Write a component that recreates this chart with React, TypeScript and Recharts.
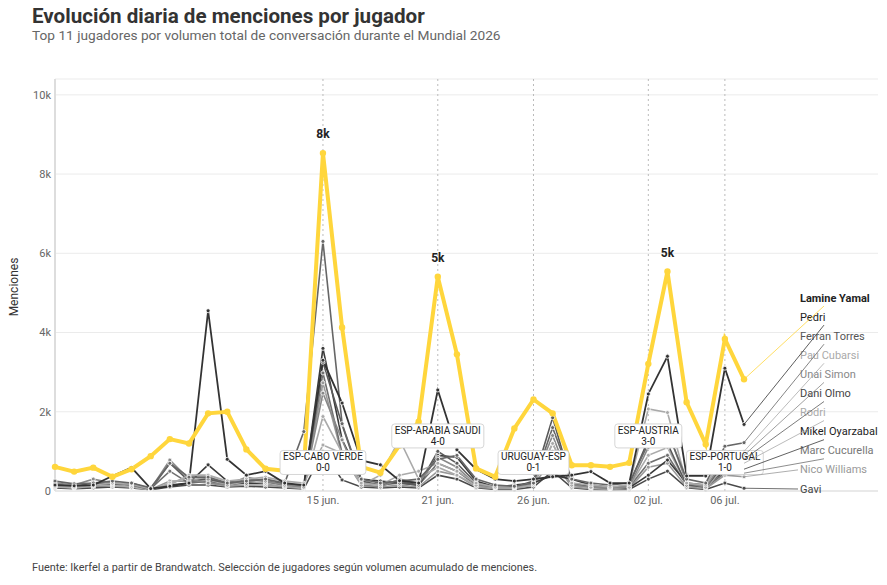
import React from 'react';
import { LineChart, Line, XAxis, YAxis, CartesianGrid, ReferenceLine, ReferenceDot, LabelList } from 'recharts';

const FONT = 'Roboto, "Noto Sans", Arial, sans-serif';

const dates = [
  '01 jun.', '02 jun.', '03 jun.', '04 jun.', '05 jun.', '06 jun.', '07 jun.', '08 jun.', '09 jun.', '10 jun.',
  '11 jun.', '12 jun.', '13 jun.', '14 jun.', '15 jun.', '16 jun.', '17 jun.', '18 jun.', '19 jun.', '20 jun.',
  '21 jun.', '22 jun.', '23 jun.', '24 jun.', '25 jun.', '26 jun.', '27 jun.', '28 jun.', '29 jun.', '30 jun.',
  '01 jul.', '02 jul.', '03 jul.', '04 jul.', '05 jul.', '06 jul.', '07 jul.',
];

const players = [
  'Lamine Yamal', 'Pedri', 'Ferran Torres', 'Pau Cubarsi', 'Unai Simon', 'Dani Olmo',
  'Rodri', 'Mikel Oyarzabal', 'Marc Cucurella', 'Nico Williams', 'Gavi',
];

const lamineYamal = [610, 490, 590, 360, 550, 880, 1310, 1200, 1960, 2000, 1050, 560, 510, 530, 8530, 4130, 610, 460, 1150, 1750, 5410, 3450, 570, 360, 1580, 2310, 1960, 650, 650, 610, 710, 3210, 5540, 2240, 1180, 3840, 2820];
const pedri = [150, 130, 150, 380, 590, 60, 120, 200, 4550, 800, 400, 500, 200, 150, 3300, 2220, 770, 660, 260, 200, 2550, 1040, 550, 300, 250, 300, 360, 400, 490, 200, 200, 2450, 3400, 380, 380, 3100, 1680];
const ferranTorres = [250, 180, 200, 250, 200, 80, 700, 350, 350, 200, 250, 300, 200, 1500, 6300, 1700, 300, 200, 250, 300, 800, 900, 300, 150, 120, 200, 1600, 300, 200, 150, 200, 1200, 1500, 300, 200, 1130, 1220];
const pauCubarsi = [120, 100, 150, 200, 180, 50, 150, 400, 400, 250, 300, 350, 250, 200, 1160, 950, 200, 150, 400, 500, 700, 500, 200, 100, 100, 200, 1200, 200, 150, 100, 150, 2070, 1980, 200, 150, 900, 1000];
const unaiSimon = [200, 150, 300, 200, 150, 50, 780, 300, 200, 150, 350, 250, 150, 100, 2470, 1290, 150, 100, 300, 200, 850, 600, 150, 100, 100, 200, 1400, 150, 100, 80, 100, 1100, 1550, 200, 100, 800, 900];
const daniOlmo = [180, 120, 200, 180, 150, 40, 700, 250, 300, 200, 300, 250, 180, 120, 3250, 1670, 250, 150, 200, 150, 1000, 700, 200, 100, 100, 250, 1850, 200, 100, 80, 150, 1300, 1200, 150, 100, 700, 800];
const rodri = [100, 80, 120, 150, 100, 30, 200, 350, 300, 150, 250, 200, 120, 80, 1880, 960, 150, 400, 1300, 300, 600, 400, 150, 80, 80, 150, 1200, 150, 80, 60, 100, 900, 1100, 150, 80, 600, 700];
const mikelOyarzabal = [150, 100, 120, 150, 200, 50, 150, 200, 660, 250, 200, 200, 150, 100, 3600, 1300, 300, 250, 200, 150, 900, 850, 250, 100, 150, 200, 400, 300, 150, 100, 80, 400, 780, 200, 150, 500, 550];
const marcCucurella = [150, 100, 150, 200, 150, 60, 500, 200, 250, 150, 200, 200, 120, 100, 2980, 960, 200, 150, 250, 150, 700, 500, 150, 80, 100, 200, 1000, 150, 100, 60, 100, 700, 900, 150, 100, 450, 450];
const nicoWilliams = [120, 80, 120, 120, 100, 40, 250, 250, 200, 120, 150, 150, 100, 60, 2730, 900, 150, 100, 150, 100, 500, 400, 100, 60, 60, 150, 800, 100, 60, 40, 60, 600, 700, 100, 60, 400, 360];
const gavi = [80, 60, 80, 100, 80, 30, 100, 150, 150, 100, 120, 100, 80, 50, 1000, 280, 100, 80, 100, 80, 400, 300, 80, 40, 40, 100, 500, 80, 40, 30, 40, 300, 500, 80, 40, 200, 70];

const seriesValues = [lamineYamal, pedri, ferranTorres, pauCubarsi, unaiSimon, daniOlmo, rodri, mikelOyarzabal, marcCucurella, nicoWilliams, gavi];

const matchDates = ['15 jun.', '21 jun.', '26 jun.', '02 jul.', '06 jul.'];
const matchNames = ['ESP-CABO VERDE', 'ESP-ARABIA SAUDI', 'URUGUAY-ESP', 'ESP-AUSTRIA', 'ESP-PORTUGAL'];
const matchScores = ['0-0', '4-0', '0-1', '3-0', '1-0'];

const peakDates = ['15 jun.', '21 jun.', '03 jul.'];

const yTicks = [0, 2000, 4000, 6000, 8000, 10000];

// styles per player, same order as players
const lineColors = ['#FFD63C', '#333333', '#666666', '#aaaaaa', '#888888', '#5a5a5a', '#aaaaaa', '#3a3a3a', '#707070', '#999999', '#4a4a4a'];
const textColors = ['#222222', '#222222', '#555555', '#aaaaaa', '#888888', '#444444', '#aaaaaa', '#222222', '#777777', '#999999', '#444444'];

const rows = dates.map((d, i) => {
  const r: any = { i, date: d };
  players.forEach((p, k) => { r[p] = seriesValues[k][i]; });
  return r;
});

const matchIdx = matchDates.map(d => dates.indexOf(d));
const peakIdx = peakDates.map(d => dates.indexOf(d));
const lastIdx = dates.length - 1;

let ctx: CanvasRenderingContext2D | null = null;
function textWidth(s: string, font: string) {
  if (!ctx) ctx = document.createElement('canvas').getContext('2d');
  if (!ctx) return s.length * 5.5;
  ctx.font = font;
  return ctx.measureText(s).width;
}

const LABEL_X = 800;
const LABEL_TOP = 298;
const LABEL_STEP = 19.1;

function endLabel(rank: number) {
  return (props: any) => {
    const { x, y, index } = props;
    if (index !== lastIdx) return null;
    const ly = LABEL_TOP + rank * LABEL_STEP;
    let ex = LABEL_X + 24;
    let ey = ly + 8;
    if (ey > y - 12) { ex = LABEL_X - 2; ey = ly; }
    return (
      <g>
        <line x1={x} y1={y} x2={ex} y2={ey} stroke={lineColors[rank]} strokeWidth={0.8} />
        <text x={LABEL_X} y={ly} dominantBaseline="central" fontSize={11} fontFamily={FONT}
          fontWeight={rank === 0 ? 700 : 400} fill={textColors[rank]}>{players[rank]}</text>
      </g>
    );
  };
}

function peakLabel(props: any) {
  const { x, y, index, value } = props;
  if (!peakIdx.includes(index)) return null;
  return (
    <text x={x} y={y - 19} textAnchor="middle" dominantBaseline="central" fontSize={12}
      fontWeight={700} fontFamily={FONT} fill="#222">{Math.floor(value / 1000)}k</text>
  );
}

function MatchBox({ cx, cy, name, score }: any) {
  const w = Math.max(textWidth(name, `10px ${FONT}`), textWidth(score, `10px ${FONT}`)) + 6;
  return (
    <g>
      <rect x={cx - w / 2} y={cy - 12} width={w} height={24} rx={3} fill="#fff" stroke="#cccccc" strokeWidth={0.8} />
      <text x={cx} y={cy - 5.5} textAnchor="middle" dominantBaseline="central" fontSize={10} fontFamily={FONT} fill="#222">{name}</text>
      <text x={cx} y={cy + 5.5} textAnchor="middle" dominantBaseline="central" fontSize={10} fontFamily={FONT} fill="#222">{score}</text>
    </g>
  );
}

export default function App() {
  const grayOrder = players.map((_, k) => k).filter(k => k > 0).reverse();
  return (
    <div style={{ position: 'absolute', left: 0, top: 0, width: 887, height: 585, background: '#fff', fontFamily: FONT }}>
      <div style={{ position: 'absolute', left: 32, top: 4, fontSize: 20.6, fontWeight: 700, color: '#333', lineHeight: '24px', whiteSpace: 'nowrap' }}>
        Evolución diaria de menciones por jugador
      </div>
      <div style={{ position: 'absolute', left: 32, top: 26, fontSize: 13.7, color: '#666', lineHeight: '18px', whiteSpace: 'nowrap' }}>
        Top 11 jugadores por volumen total de conversación durante el Mundial 2026
      </div>
      <div style={{ position: 'absolute', left: 32, top: 561, fontSize: 10.9, color: '#444', lineHeight: '14px', whiteSpace: 'nowrap' }}>
        Fuente: Ikerfel a partir de Brandwatch. Selección de jugadores según volumen acumulado de menciones.
      </div>
      <div style={{ position: 'absolute', left: 14, top: 287, transform: 'translate(-50%, -50%) rotate(-90deg)', fontSize: 12, color: '#333', whiteSpace: 'nowrap' }}>
        Menciones
      </div>
      <div style={{ position: 'absolute', left: 0, top: 0 }}>
        <LineChart width={887} height={585} data={rows} margin={{ top: 79, right: 9, bottom: 64, left: 0 }}>
          <CartesianGrid vertical={false} stroke="#ebebeb" />
          <XAxis dataKey="i" type="number" domain={[0, 43]} ticks={matchIdx} tickFormatter={(v: number) => dates[v]}
            height={30} tickLine={false} tickSize={3} tickMargin={2} axisLine={{ stroke: '#dddddd' }}
            tick={{ fill: '#666', fontSize: 11, fontFamily: FONT }} interval={0} />
          <YAxis domain={[0, 10400]} ticks={yTicks} width={55} tickLine={false} tickSize={4} tickMargin={0}
            tickFormatter={(v: number) => (v === 0 ? '0' : `${v / 1000}k`)}
            axisLine={{ stroke: '#dddddd', strokeWidth: 2 }} tick={{ fill: '#666', fontSize: 11, fontFamily: FONT }} />
          {matchIdx.map(x => (
            <ReferenceLine key={`rl${x}`} x={x} stroke="#bbbbbb" strokeDasharray="2 3" strokeWidth={1} />
          ))}
          {grayOrder.map(k => (
            <Line key={players[k]} dataKey={players[k]} type="linear" stroke={lineColors[k]}
              strokeWidth={k === 1 ? 1.8 : 1.6} isAnimationActive={false}
              dot={{ r: 2, fill: lineColors[k], stroke: '#fff', strokeWidth: 0.8 }}>
              <LabelList dataKey={players[k]} content={endLabel(k)} />
            </Line>
          ))}
          <Line dataKey={players[0]} type="linear" stroke={lineColors[0]} strokeWidth={4} isAnimationActive={false}
            dot={{ r: 3.2, fill: lineColors[0], stroke: 'none' }}>
            <LabelList dataKey={players[0]} content={endLabel(0)} />
            <LabelList dataKey={players[0]} content={peakLabel} />
          </Line>
          {matchIdx.map((x, m) => (
            <ReferenceDot key={`md${x}`} x={x} y={m % 2 === 0 ? 720 : 1390} r={0}
              shape={(p: any) => <MatchBox cx={p.cx} cy={p.cy} name={matchNames[m]} score={matchScores[m]} />} />
          ))}
        </LineChart>
      </div>
    </div>
  );
}
